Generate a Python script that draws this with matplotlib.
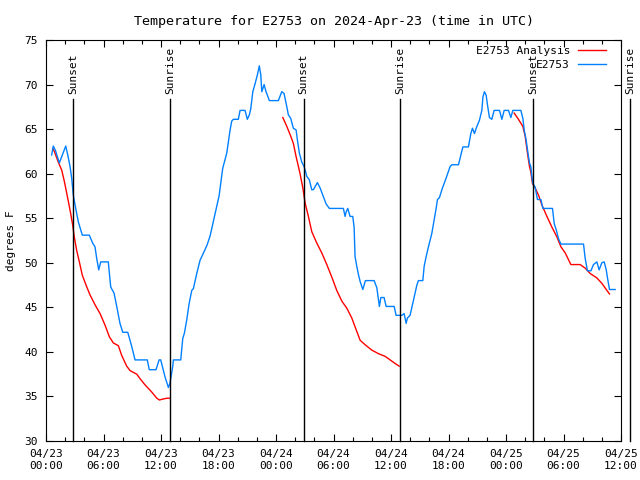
import matplotlib
matplotlib.use("Agg")
import matplotlib.pyplot as plt
import matplotlib.dates as mdates
import pandas as pd

# hours since 2024-04-23 00:00 UTC, temperature in F
obs_hours = [0.59, 0.76, 0.99, 1.39, 1.64, 2.06, 2.27, 2.51, 2.68, 2.79, 2.85,
             3.10, 3.37, 3.79, 4.52, 4.87, 5.11, 5.29, 5.50, 5.71, 6.50, 6.75,
             6.89, 7.10, 7.38, 7.72, 8.01, 8.53, 8.95, 9.29, 10.57, 10.78, 11.48,
             11.80, 11.97, 12.42, 12.77, 12.94, 13.23, 13.29, 14.06, 14.27, 14.44,
             14.69, 14.93, 15.21, 15.38, 15.73, 16.08, 16.39, 16.81, 17.12, 17.43,
             17.75, 18.06, 18.44, 18.86, 19.21, 19.38, 19.55, 20.07, 20.25, 20.77,
             21.01, 21.22, 21.37, 21.58, 21.82, 22.06, 22.26, 22.41, 22.52, 22.76,
             22.96, 23.31, 24.25, 24.60, 24.84, 25.13, 25.29, 25.54, 25.81, 26.10,
             26.23, 26.44, 26.69, 26.93, 27.04, 27.21, 27.48, 27.73, 27.90, 28.32,
             28.60, 28.95, 29.23, 29.57, 31.03, 31.21, 31.32, 31.49, 31.73, 32.01,
             32.15, 32.25, 32.43, 32.60, 32.78, 33.06, 33.33, 34.24, 34.52, 34.79,
             34.94, 35.28, 35.49, 36.33, 36.53, 37.13, 37.37, 37.58, 37.71, 37.99,
             38.34, 38.70, 38.86, 39.32, 39.46, 39.67, 39.91, 40.26, 40.50, 40.71,
             40.85, 41.05, 41.34, 41.75, 42.17, 42.35, 43.04, 43.29, 43.50, 44.08,
             44.33, 44.50, 44.71, 44.89, 45.23, 45.48, 45.59, 45.75, 45.93, 46.07,
             46.27, 46.52, 46.76, 47.32, 47.57, 47.81, 48.26, 48.51, 48.71, 49.55,
             49.76, 49.90, 50.10, 50.24, 50.45, 50.59, 50.70, 50.80, 51.04, 51.28,
             51.64, 51.85, 52.85, 53.03, 53.24, 53.48, 53.73, 56.09, 56.26, 56.50,
             56.86, 57.13, 57.48, 57.72, 58.00, 58.25, 58.46, 58.59, 58.80, 59.39]
obs_temp = [62.1, 63.1, 62.6, 61.2, 61.9, 63.1, 62.1, 60.8, 59.5, 58.2, 57.6,
            56.1, 54.6, 53.1, 53.1, 52.2, 51.8, 50.5, 49.2, 50.1, 50.1, 47.3,
            47.0, 46.6, 45.1, 43.2, 42.2, 42.2, 40.6, 39.1, 39.1, 38.0, 38.0,
            39.1, 39.1, 37.2, 36.0, 36.5, 38.4, 39.1, 39.1, 41.5, 42.1,
            43.6, 45.4, 46.9, 47.1, 48.8, 50.3, 51.0, 52.0, 53.0, 54.5,
            56.0, 57.5, 60.6, 62.3, 64.9, 65.9, 66.1, 66.1, 67.1, 67.1,
            66.1, 66.6, 67.3, 69.2, 70.1, 71.1, 72.1, 71.1, 69.2, 70.0,
            69.2, 68.2, 68.2, 69.2, 69.0, 67.5, 66.6, 66.2, 65.1, 64.9,
            63.8, 62.3, 61.3, 60.8, 60.4, 59.7, 59.3, 58.2, 58.2, 59.0,
            58.4, 57.4, 56.6, 56.1, 56.1, 55.2, 55.7, 56.1, 55.2, 55.2,
            54.0, 50.7, 49.6, 48.7, 47.9, 47.0, 48.0, 48.0, 47.2, 45.1,
            46.1, 46.1, 45.1, 45.1, 44.1, 44.1, 44.3, 43.2, 43.8, 44.1,
            45.8, 47.5, 48.0, 48.0, 49.6, 50.7, 51.8, 53.3, 54.8, 56.1,
            57.1, 57.3, 58.3, 59.5, 60.8, 61.0, 61.0, 62.1, 63.0, 63.0,
            64.5, 65.1, 64.5, 65.1, 66.0, 67.1, 68.6, 69.2, 68.8, 67.7,
            66.3, 66.1, 67.1, 67.1, 66.1, 67.1, 67.1, 66.3, 67.1, 67.1,
            66.2, 64.9, 63.8, 62.7, 61.2, 60.8, 59.7, 58.9, 58.5, 57.1,
            57.1, 56.1, 56.1, 54.4, 53.7, 52.7, 52.1, 52.1, 50.5, 49.1,
            49.1, 49.8, 50.1, 49.2, 50.0, 50.1, 49.2, 48.3, 47.0, 47.0]

# analysis comes in three separate runs
ana1_hours = [0.70, 0.87, 1.28, 1.64, 1.88, 2.09, 2.33, 2.58, 2.79, 2.95, 3.20,
              3.48, 3.79, 4.25, 4.59, 5.11, 5.64, 6.16, 6.61, 7.03, 7.55, 7.90,
              8.42, 8.77, 9.47, 9.81, 10.33, 11.03, 11.56, 11.83, 12.18, 12.60, 12.87]
ana1_temp = [62.8, 62.5, 61.3, 60.4, 59.3, 58.2, 56.9, 55.5, 54.2, 52.9, 51.4,
             50.1, 48.6, 47.3, 46.4, 45.3, 44.3, 43.0, 41.7, 41.0, 40.7, 39.6,
             38.4, 37.9, 37.5, 37.0, 36.3, 35.5, 34.8, 34.6, 34.7, 34.8, 34.8]
ana2_hours = [24.71, 25.13, 25.54, 25.81, 26.10, 26.34, 26.51, 26.80, 27.04, 27.38,
              27.73, 28.26, 28.78, 29.30, 29.82, 30.34, 30.87, 31.39, 31.91, 32.36,
              32.78, 33.30, 34.00, 34.69, 35.39, 35.91, 36.43, 36.85]
ana2_temp = [66.3, 65.3, 64.2, 63.4, 61.9, 60.8, 60.0, 58.4, 56.7, 55.2,
             53.5, 52.2, 51.1, 49.8, 48.4, 46.9, 45.7, 44.9, 43.8, 42.5,
             41.3, 40.8, 40.2, 39.8, 39.5, 39.1, 38.7, 38.4]
ana3_hours = [48.85, 49.30, 49.76, 50.00, 50.24, 50.45, 50.59, 50.76, 51.04, 51.39,
              51.74, 52.27, 52.79, 53.31, 53.73, 54.18, 54.77, 55.74, 56.26, 56.78,
              57.48, 58.00, 58.46, 58.80]
ana3_temp = [66.8, 66.1, 65.3, 64.2, 62.3, 60.8, 60.2, 58.9, 58.4, 57.6,
             56.5, 55.2, 54.0, 52.9, 51.8, 51.1, 49.8, 49.8, 49.4, 48.8,
             48.3, 47.7, 47.0, 46.5]

sun_labels = ["Sunset", "Sunrise", "Sunset", "Sunrise", "Sunset", "Sunrise"]
sun_times = ["2024-04-23 02:51", "2024-04-23 12:59", "2024-04-24 02:53",
             "2024-04-24 12:58", "2024-04-25 02:52", "2024-04-25 12:57"]

start = pd.Timestamp("2024-04-23 00:00")
end = pd.Timestamp("2024-04-25 12:00")


def to_time(hours):
    return [start + pd.Timedelta(hours=h) for h in hours]


plt.rcParams['font.family'] = 'DejaVu Sans Mono'
plt.rcParams['font.size'] = 8

fig = plt.figure(figsize=(6.4, 4.8), dpi=100)
ax = fig.add_axes([46 / 640, 39 / 480, 575 / 640, 401 / 480])

red = '#ff0000'
blue = '#0080ff'
ax.plot(to_time(ana1_hours), ana1_temp, color=red, lw=1.0, label='E2753 Analysis')
ax.plot(to_time(ana2_hours), ana2_temp, color=red, lw=1.0)
ax.plot(to_time(ana3_hours), ana3_temp, color=red, lw=1.0)
ax.plot(to_time(obs_hours), obs_temp, color=blue, lw=1.0, label='E2753')

ax.set_xlim(start, end)
ax.set_ylim(30, 75)

for lab, ts in zip(sun_labels, sun_times):
    t = pd.Timestamp(ts)
    ax.plot([t, t], [30, 68.4], color='black', lw=1.0, clip_on=False)
    ax.text(t, 68.9, lab, rotation=90, ha='center', va='bottom')

ax.xaxis.set_major_locator(mdates.HourLocator(byhour=[0, 6, 12, 18]))
ax.xaxis.set_minor_locator(mdates.HourLocator(interval=2))
ax.xaxis.set_major_formatter(mdates.DateFormatter('%m/%d\n%H:%M'))
ax.yaxis.set_major_locator(plt.MultipleLocator(5))

ax.tick_params(which='both', direction='in', top=True, right=True, width=0.8)
ax.tick_params(which='major', length=5, pad=6)
ax.tick_params(which='minor', length=3)
for s in ax.spines.values():
    s.set_linewidth(0.8)

ax.set_ylabel('degrees F', labelpad=6)
ax.set_title('Temperature for E2753 on 2024-Apr-23 (time in UTC)', pad=11)

ax.legend(loc='upper right', frameon=False, markerfirst=False, handlelength=2.5,
          handletextpad=0.7, labelspacing=0.35, borderaxespad=0.0,
          bbox_to_anchor=(0.981, 0.997))

fig.savefig('out.png', dpi=100)
